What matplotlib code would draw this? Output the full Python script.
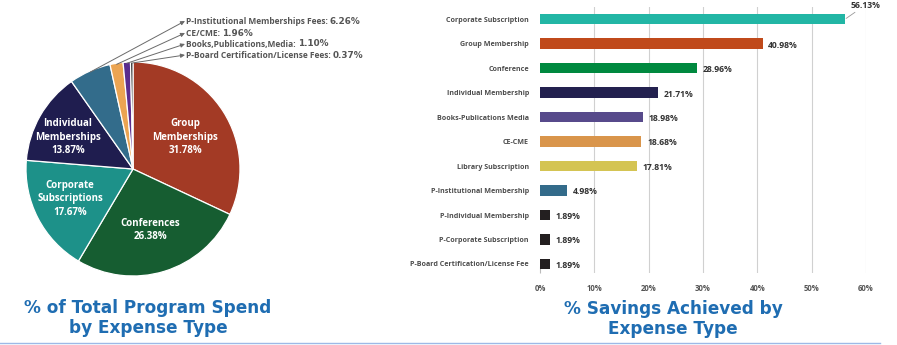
import numpy as np
import matplotlib
matplotlib.use("Agg")
import matplotlib.pyplot as plt
from matplotlib.lines import Line2D
from matplotlib.ticker import FixedLocator

# ---- data -------------------------------------------------------------
spend_labels = ["Group\nMemberships", "Conferences", "Corporate\nSubscriptions",
                "Individual\nMemberships", "P-Institutional Memberships Fees",
                "CE/CME", "Books,Publications,Media",
                "P-Board Certification/License Fees"]
spend_values = [31.78, 26.38, 17.67, 13.87, 6.26, 1.96, 1.10, 0.37]
spend_colors = ["#A33A25", "#165D31", "#1D9189", "#1F1D4F",
                "#336C8B", "#EBA452", "#5A2D8E", "#1B1B1B"]

savings_labels = ["Corporate Subscription", "Group Membership", "Conference",
                  "Individual Membership", "Books-Publications Media", "CE-CME",
                  "Library Subscription", "P-Institutional Membership",
                  "P-Individual Membership", "P-Corporate Subscription",
                  "P-Board Certification/License Fee"]
savings_values = [56.13, 40.98, 28.96, 21.71, 18.98, 18.68, 17.81, 4.98, 1.89, 1.89, 1.89]
savings_colors = ["#22B6A5", "#C04A1B", "#00893F", "#23214F", "#574A8B", "#D9954B",
                  "#D4C453", "#336B8A", "#231F20", "#231F20", "#231F20"]
savings_ticks = [0, 10, 20, 30, 40, 50, 60]

W, H = 897, 345
fig = plt.figure(figsize=(W / 100, H / 100), dpi=100)
fig.patch.set_facecolor("white")

TITLE_BLUE = "#1F6DB2"
GRAY = "#4D4D4D"
LBL = dict(family="Open Sans", fontweight="bold")
TITLE = dict(family="DejaVu Sans", fontweight="bold")

# ---- pie: share of total spend ---------------------------------------
cx, cy, r = 133, 169, 107
pax = fig.add_axes([(cx - r) / W, (H - cy - r) / H, 2 * r / W, 2 * r / H])
wedges, _ = pax.pie(spend_values, colors=spend_colors, startangle=90,
                    counterclock=False, radius=1.0,
                    wedgeprops=dict(edgecolor="white", linewidth=0.9))
pax.set_xlim(-1, 1)
pax.set_ylim(-1, 1)
pax.set_aspect("equal")
pax.axis("off")

inner_pos = [(0.486, 0.299), (0.159, -0.570), (-0.589, -0.280), (-0.607, 0.299)]
for i, (px, py) in enumerate(inner_pos):
    pax.text(px, py, f"{spend_labels[i]}\n{spend_values[i]:.2f}%", color="white",
             ha="center", va="center", fontsize=7.0, linespacing=1.3, **LBL)

# callouts for the thin slices
total = sum(spend_values)
callout_y = [21, 33, 44, 55]
for k, i in enumerate(range(4, 8)):
    start = 90 - 360 * sum(spend_values[:i]) / total
    mid = np.deg2rad(start - 180 * spend_values[i] / total)
    sx, sy = 0.99 * np.cos(mid), 0.99 * np.sin(mid)
    tx, ty = 186, H - callout_y[k]
    pax.annotate("", xy=(tx - 1, ty), xycoords="figure pixels",
                 xytext=(sx, sy), textcoords="data",
                 arrowprops=dict(arrowstyle="-|>,head_length=0.25,head_width=0.12",
                                 color="#6A6A6A", lw=0.7, shrinkA=0, shrinkB=0),
                 annotation_clip=False)
    t = fig.text(tx / W, ty / H, spend_labels[i] + ": ", color="#555555",
                 fontsize=6.0, ha="left", va="center", **LBL)
    pax.annotate(f"{spend_values[i]:.2f}%", xy=(1, 0.5), xycoords=t,
                 va="center", ha="left", fontsize=6.4, color="#555555",
                 family="DejaVu Sans", fontweight="bold",
                 annotation_clip=False)

fig.text(148 / W, 1 - 318 / H, "% of Total Program Spend\nby Expense Type",
         ha="center", va="center", color=TITLE_BLUE, fontsize=12.2,
         linespacing=1.12, **TITLE)

# ---- bars: savings achieved ------------------------------------------
x0, x1 = 540, 866
y_top, y_bot = 7, 273
bax = fig.add_axes([x0 / W, (H - y_bot) / H, (x1 - x0) / W, (y_bot - y_top) / H])
ypos = np.arange(len(savings_values))
bax.barh(ypos, savings_values, height=0.43, color=savings_colors, zorder=3)
bax.set_xlim(0, 60)
bax.set_ylim(10.37, -0.5)
bax.set_yticks(ypos)
bax.set_yticklabels(savings_labels, fontsize=5.1, color=GRAY, **LBL)
bax.set_xticks(savings_ticks[1:])
bax.xaxis.set_minor_locator(FixedLocator([0]))
bax.set_xticklabels([f"{v}%" for v in savings_ticks[1:]])
bax.tick_params(axis="y", length=0, pad=8)
bax.tick_params(axis="x", which="major", length=0, pad=8, labelsize=5.6,
                labelcolor="#555555")
bax.tick_params(axis="x", which="minor", length=5, direction="in",
                color="#BBBBBB", width=0.8)
bax.text(0, -0.042, "0%", transform=bax.get_xaxis_transform(), ha="center",
         va="top", fontsize=5.6, color="#555555", **LBL)
for lab in bax.get_xticklabels():
    lab.set_family("Open Sans")
    lab.set_fontweight("bold")
for s in bax.spines.values():
    s.set_visible(False)
bax.grid(axis="x", color="#D0D0D0", lw=0.8, zorder=0)
bax.set_axisbelow(True)

for i, v in enumerate(savings_values):
    if i == 0:
        bax.annotate(f"{v:.2f}%", xy=(v, i), xytext=(4, 7),
                     textcoords="offset points", ha="left", va="bottom",
                     fontsize=6.2, color="#333333",
                     arrowprops=dict(arrowstyle="-", color="#999999", lw=0.6,
                                     shrinkA=0, shrinkB=1),
                     annotation_clip=False, **LBL)
    else:
        bax.annotate(f"{v:.2f}%", xy=(v, i), xytext=(4, -1),
                     textcoords="offset points", ha="left", va="center",
                     fontsize=6.2, color="#333333", **LBL)

fig.text(673 / W, 1 - 319 / H, "% Savings Achieved by\nExpense Type",
         ha="center", va="center", color=TITLE_BLUE, fontsize=12.2,
         linespacing=1.12, **TITLE)

# thin rule along the bottom edge
fig.add_artist(Line2D([0, 880 / W], [1 - 343 / H] * 2, color="#9DB9E6", lw=1.0,
                      transform=fig.transFigure))

fig.savefig("out.png", dpi=100, facecolor="white")
